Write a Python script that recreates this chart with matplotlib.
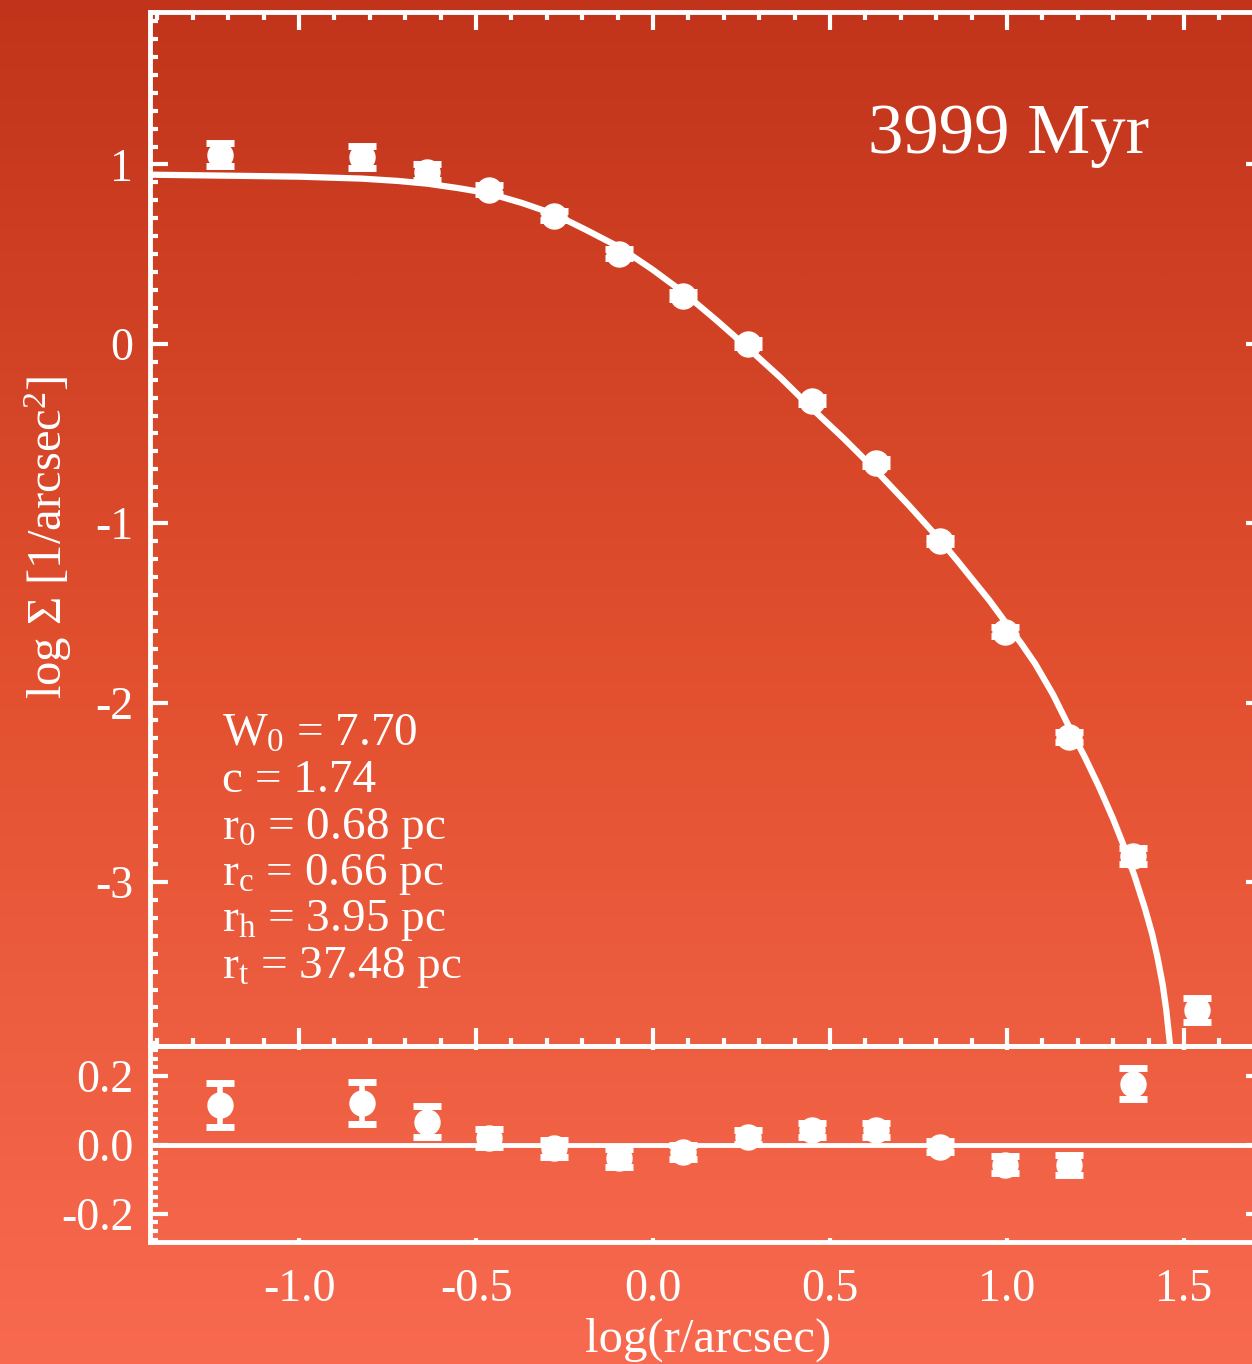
import numpy as np
import matplotlib
matplotlib.use("Agg")
import matplotlib.pyplot as plt
from matplotlib.colors import LinearSegmentedColormap
from matplotlib.ticker import MultipleLocator

plt.rcParams['font.family'] = ['Liberation Serif', 'DejaVu Serif']
plt.rcParams['mathtext.fontset'] = 'custom'
plt.rcParams['mathtext.rm'] = 'Liberation Serif'
plt.rcParams['mathtext.default'] = 'regular'
plt.rcParams['axes.unicode_minus'] = False

# Surface density profile (log r in arcsec, log Sigma)
log_r = [-1.223, -0.822, -0.638, -0.463, -0.280, -0.096, 0.085, 0.268,
         0.449, 0.630, 0.811, 0.994, 1.175, 1.356, 1.537]
log_sigma = [1.054, 1.043, 0.960, 0.859, 0.714, 0.502, 0.268, 0.000,
             -0.318, -0.664, -1.099, -1.606, -2.192, -2.856, -3.714]
sigma_err = [0.065, 0.060, 0.045, 0.025, 0.025, 0.025, 0.020, 0.020,
             0.020, 0.020, 0.015, 0.025, 0.030, 0.045, 0.065]

# Residuals (data - model) for the points inside the tidal radius
resid = [0.116, 0.122, 0.067, 0.020, -0.010, -0.038, -0.020, 0.023,
         0.043, 0.043, -0.005, -0.058, -0.058, 0.177]

# King model curve
model_x = [-1.421, -1.223, -1.000, -0.822, -0.720, -0.638, -0.550, -0.463,
           -0.370, -0.280, -0.190, -0.096, 0.000, 0.085, 0.180, 0.268,
           0.360, 0.449, 0.540, 0.630, 0.720, 0.811, 0.860, 0.900, 0.950,
           0.994, 1.040, 1.080, 1.130, 1.175, 1.220, 1.260, 1.300, 1.330,
           1.360, 1.390, 1.410, 1.425, 1.440, 1.450, 1.460]
model_y = [0.943, 0.938, 0.932, 0.921, 0.908, 0.893, 0.868, 0.839,
           0.785, 0.724, 0.636, 0.540, 0.412, 0.288, 0.130, -0.023,
           -0.188, -0.361, -0.530, -0.707, -0.895, -1.094, -1.210, -1.308,
           -1.430, -1.548, -1.670, -1.785, -1.955, -2.134, -2.305, -2.470,
           -2.650, -2.800, -2.965, -3.150, -3.290, -3.420, -3.575, -3.715,
           -3.900]

fit_text = ['W$_0$ = 7.70', 'c = 1.74', 'r$_0$ = 0.68 pc',
            'r$_c$ = 0.66 pc', 'r$_h$ = 3.95 pc', 'r$_t$ = 37.48 pc']
age_label = '3999 Myr'

W, H = 1252, 1364
fig = plt.figure(figsize=(W / 100, H / 100), dpi=100)

# vertical red gradient background
bg = fig.add_axes([0, 0, 1, 1], zorder=-10)
cmap = LinearSegmentedColormap.from_list(
    'bg', ['#C1341B', '#E2502F', '#F86A50'])
grad = np.linspace(0, 1, 512).reshape(-1, 1)
bg.imshow(grad, aspect='auto', cmap=cmap, extent=[0, 1, 0, 1], origin='upper')
bg.set_axis_off()

x_left, x_right = 150 / W, 1264 / W
y_top, y_mid, y_bot = 1 - 12 / H, 1 - 1046 / H, 1 - 1242 / H
ax = fig.add_axes([x_left, y_mid, x_right - x_left, y_top - y_mid])
axr = fig.add_axes([x_left, y_bot, x_right - x_left, y_mid - y_bot])

white = 'white'
for a in (ax, axr):
    a.set_facecolor('none')
    for s in a.spines.values():
        s.set_color(white)
        s.set_linewidth(3.5)
    a.tick_params(which='both', direction='in', color=white, labelcolor=white,
                  top=True, right=True, labelsize=33)
    a.tick_params(which='major', length=13, width=3)
    a.tick_params(which='minor', length=6, width=3)
    a.set_xlim(-1.421, 1.726)

# main panel
ax.plot(model_x, model_y, color=white, lw=4.5, solid_joinstyle='round',
        zorder=3)
ax.errorbar(log_r, log_sigma, yerr=sigma_err, fmt='o', color=white, ms=18,
            mec=white, elinewidth=4, capsize=10, capthick=5, zorder=4)
ax.set_ylim(-3.915, 1.85)
ax.xaxis.set_major_locator(MultipleLocator(0.5))
ax.xaxis.set_minor_locator(MultipleLocator(0.1))
ax.yaxis.set_major_locator(MultipleLocator(1))
ax.yaxis.set_minor_locator(MultipleLocator(0.1))
ax.set_yticks([1, 0, -1, -2, -3])
ax.tick_params(axis='x', labelbottom=False)
ax.tick_params(axis='y', pad=12)

# residual panel
n = len(resid)
axr.axhline(0, color=white, lw=3.5, zorder=2)
axr.errorbar(log_r[:n], resid, yerr=sigma_err[:n], fmt='o', color=white, ms=18,
             mec=white, elinewidth=4, capsize=10, capthick=5, zorder=4)
axr.set_ylim(-0.282, 0.287)
axr.xaxis.set_major_locator(MultipleLocator(0.5))
axr.yaxis.set_major_locator(MultipleLocator(0.2))
axr.yaxis.set_minor_locator(MultipleLocator(0.025))
axr.set_yticks([-0.2, 0.0, 0.2])
axr.set_yticklabels(['-0.2', '0.0', '0.2'])
axr.set_xticks([-1.0, -0.5, 0.0, 0.5, 1.0, 1.5])
axr.set_xticklabels(['-1.0', '-0.5', '0.0', '0.5', '1.0', '1.5'])
axr.tick_params(axis='x', which='major', length=3, pad=19)
axr.tick_params(axis='x', which='minor', length=0)
axr.tick_params(axis='y', pad=12)

# axis titles
fig.text(48 / W, 1 - 537 / H, r'log $\Sigma$ [1/arcsec$^2$]', rotation=90,
         ha='center', va='center', color=white, fontsize=35)
fig.text(708 / W, 1 - 1340 / H, 'log(r/arcsec)', ha='center', va='center',
         color=white, fontsize=35)

# age label
fig.text(868 / W, 1 - 153 / H, age_label, ha='left', va='baseline',
         color=white, fontsize=51)

# fit parameters
for i, line in enumerate(fit_text):
    fig.text(222 / W, 1 - (746 + 46.3 * i) / H, line, ha='left', va='baseline',
             color=white, fontsize=34)

fig.savefig('out.png', dpi=100)
